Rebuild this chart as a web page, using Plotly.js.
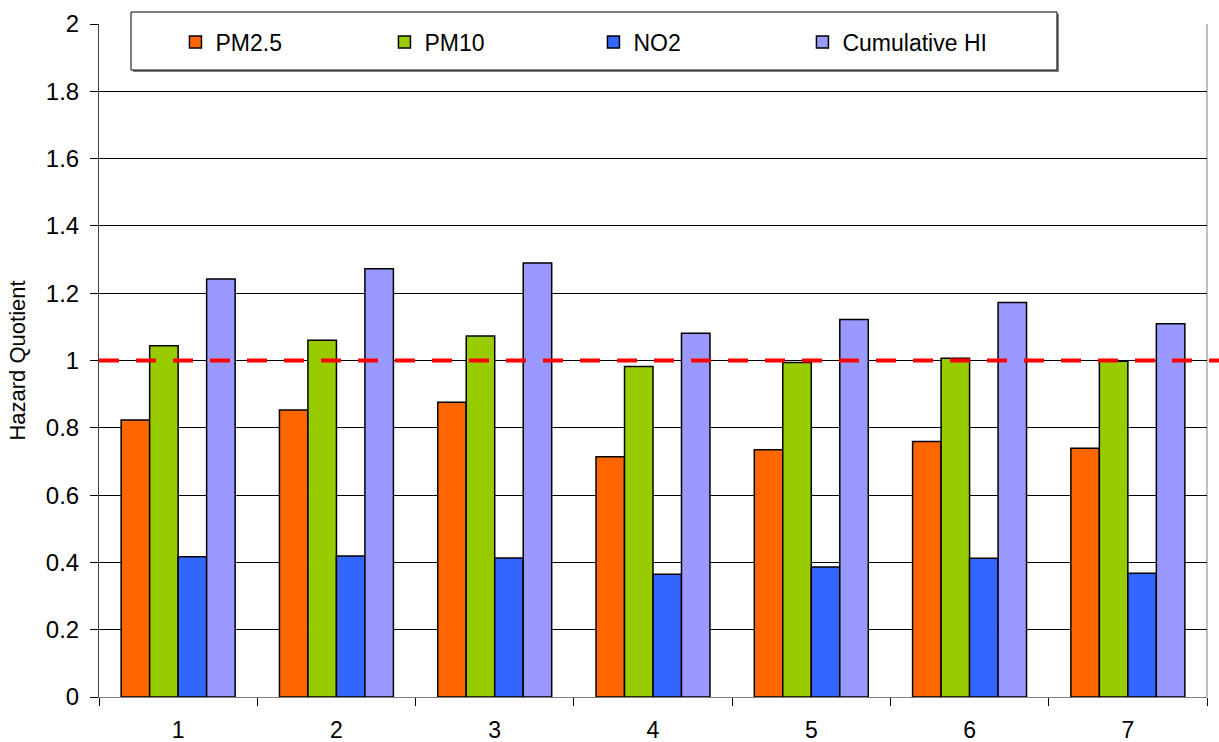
<!DOCTYPE html>
<html>
<head>
<meta charset="utf-8">
<script src="https://cdn.plot.ly/plotly-3.0.1.min.js"></script>
<style>
  html, body { margin: 0; padding: 0; background: #fff; }
  #chart { width: 1219px; height: 742px; }
</style>
</head>
<body>
<div id="chart"></div>
<script>
// Sampling sites
const sites = ['1', '2', '3', '4', '5', '6', '7'];

// Hazard quotients per pollutant
const pm25 = [0.823, 0.853, 0.876, 0.714, 0.735, 0.759, 0.739];
const pm10 = [1.044, 1.060, 1.073, 0.982, 0.994, 1.007, 0.998];
const no2  = [0.417, 0.419, 0.413, 0.365, 0.386, 0.412, 0.368];
// Cumulative hazard index
const cumulativeHI = [1.242, 1.273, 1.290, 1.081, 1.122, 1.172, 1.109];

// Reference threshold (HQ = 1)
const threshold = 1;

const seriesNames = ['PM2.5', 'PM10', 'NO2', 'Cumulative HI'];
const seriesValues = [pm25, pm10, no2, cumulativeHI];
const seriesColors = ['#FF6600', '#99CC00', '#3366FF', '#9999FF'];

const traces = seriesNames.map((name, i) => ({
  type: 'bar',
  name: name,
  x: sites,
  y: seriesValues[i],
  marker: { color: seriesColors[i], line: { color: '#000', width: 1.5 } },
  hoverinfo: 'x+y+name'
}));

const font = { family: 'Liberation Sans, Arial, sans-serif', color: '#000' };

const layout = {
  width: 1219,
  height: 742,
  margin: { l: 99, r: 12, t: 24, b: 45 },
  paper_bgcolor: '#fff',
  plot_bgcolor: '#fff',
  font: Object.assign({ size: 22 }, font),
  barmode: 'group',
  bargap: 0.28,
  bargroupgap: 0,
  showlegend: true,
  legend: {
    orientation: 'h',
    x: 0.069, xanchor: 'left',
    y: 1.005, yanchor: 'top',
    entrywidth: 164,
    entrywidthmode: 'pixels',
    bgcolor: 'rgba(0,0,0,0)',
    borderwidth: 0,
    font: Object.assign({ size: 23 }, font),
    itemclick: false
  },
  xaxis: {
    type: 'category',
    showgrid: false,
    showline: true,
    linecolor: '#808080',
    linewidth: 1,
    ticks: 'outside',
    tickson: 'boundaries',
    ticklen: 8,
    tickcolor: '#000',
    tickfont: Object.assign({ size: 23 }, font),
    ticklabelstandoff: 12,
    zeroline: false
  },
  yaxis: {
    range: [0, 2],
    dtick: 0.2,
    tick0: 0,
    showgrid: true,
    gridcolor: '#000',
    gridwidth: 1,
    showline: true,
    linecolor: '#404040',
    linewidth: 1,
    ticks: 'outside',
    ticklen: 8,
    tickcolor: '#000',
    tickfont: Object.assign({ size: 24 }, font),
    ticklabelstandoff: 6,
    zeroline: false,
    title: { text: 'Hazard Quotient', font: Object.assign({ size: 22 }, font), standoff: 14 }
  },
  shapes: [
    // right border of the plot area
    { type: 'line', xref: 'paper', yref: 'paper', x0: 1, x1: 1, y0: 0, y1: 1,
      line: { color: '#808080', width: 1 }, layer: 'below' },
    // legend frame shadow
    { type: 'rect', xref: 'paper', yref: 'paper', x0: 0.0307, x1: 0.8664, y0: 0.9287, y1: 1.0149,
      fillcolor: '#808080', line: { width: 0 }, layer: 'above' },
    // legend frame
    { type: 'rect', xref: 'paper', yref: 'paper', x0: 0.0289, x1: 0.8646, y0: 0.9316, y1: 1.0178,
      fillcolor: '#fff', line: { color: '#000', width: 1 }, layer: 'above' },
    // threshold line
    { type: 'line', xref: 'paper', yref: 'y', x0: 0, x1: 1.02, y0: threshold, y1: threshold,
      line: { color: '#FF0000', width: 4, dash: '20px,17px' }, layer: 'above' }
  ]
};

Plotly.newPlot('chart', traces, layout, { displayModeBar: false, staticPlot: true });
</script>
</body>
</html>
